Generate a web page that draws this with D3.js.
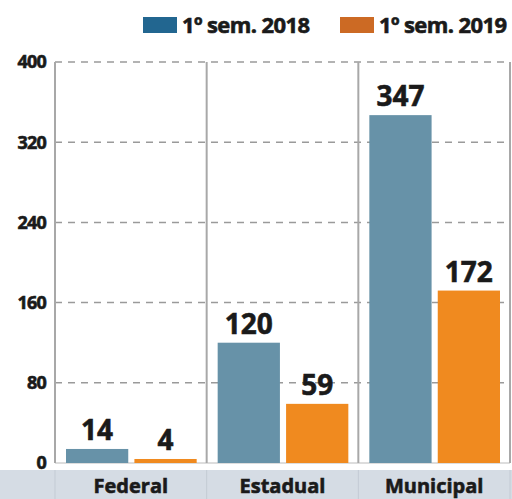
<!DOCTYPE html>
<html>
<head>
<meta charset="utf-8">
<script src="https://cdn.jsdelivr.net/npm/d3@7"></script>
<style>
  body { margin: 0; background: #fff; }
  text { font-family: "Open Sans", sans-serif; font-weight: 700; fill: #1a1a1a; stroke: #1a1a1a; stroke-width: 0.6; }
</style>
</head>
<body>
<div id="chart"></div>
<script>
const width = 512;
const height = 499;

const categories = ["Federal", "Estadual", "Municipal"];
const series = ["1º sem. 2018", "1º sem. 2019"];
const values2018 = [14, 120, 347];
const values2019 = [4, 59, 172];
const yTicks = [0, 80, 160, 240, 320, 400];
const colors = ["#6792a8", "#f08a1f"];

const plotLeft = 55, plotRight = 510, plotTop = 62, plotBottom = 463;

const svg = d3.select("#chart")
  .append("svg")
  .attr("width", width)
  .attr("height", height);

const x0 = d3.scaleBand().domain(categories).range([plotLeft, plotRight]);
const x1 = d3.scaleBand().domain(series).range([11, x0.bandwidth() - 10]).paddingInner(0.09);
const y = d3.scaleLinear().domain([0, 400]).range([plotBottom, plotTop]);

// bottom band
svg.append("rect")
  .attr("x", 0).attr("y", 470)
  .attr("width", width).attr("height", height - 470)
  .attr("fill", "#d5dce4");

// gridlines
svg.append("g")
  .selectAll("line")
  .data(yTicks.filter(d => d > 0))
  .join("line")
  .attr("x1", plotLeft).attr("x2", plotRight)
  .attr("y1", d => y(d)).attr("y2", d => y(d))
  .attr("stroke", "#9a9a9a")
  .attr("stroke-width", 1.5)
  .attr("stroke-dasharray", "7,6");

svg.append("line")
  .attr("x1", plotLeft).attr("x2", plotRight)
  .attr("y1", y(0)).attr("y2", y(0))
  .attr("stroke", "#bbb")
  .attr("stroke-width", 1);

// panel separators
const seps = categories.map(c => x0(c)).concat([plotRight]);
svg.append("g")
  .selectAll("line")
  .data(seps)
  .join("line")
  .attr("x1", d => d).attr("x2", d => d)
  .attr("y1", y(400)).attr("y2", y(0))
  .attr("stroke", "#a8a8a8")
  .attr("stroke-width", 2);

svg.append("g")
  .selectAll("line")
  .data(seps)
  .join("line")
  .attr("x1", d => d).attr("x2", d => d)
  .attr("y1", 470).attr("y2", height)
  .attr("stroke", "#c3cbd4")
  .attr("stroke-width", 1);

// y tick labels
svg.append("g")
  .selectAll("text")
  .data(yTicks)
  .join("text")
  .attr("x", 46)
  .attr("y", d => y(d))
  .attr("dy", "0.35em")
  .attr("text-anchor", "end")
  .attr("font-size", 18)
  .attr("letter-spacing", -0.8)
  .text(d => d);

// bars
const rows = categories.map((c, i) => ({ cat: c, vals: [values2018[i], values2019[i]] }));
const groups = svg.append("g")
  .selectAll("g")
  .data(rows)
  .join("g")
  .attr("transform", d => `translate(${x0(d.cat)},0)`);

groups.selectAll("rect")
  .data(d => d.vals.map((v, j) => ({ s: series[j], v, j })))
  .join("rect")
  .attr("x", d => x1(d.s))
  .attr("y", d => y(d.v))
  .attr("width", x1.bandwidth())
  .attr("height", d => y(0) - y(d.v))
  .attr("fill", d => colors[d.j]);

groups.selectAll("text")
  .data(d => d.vals.map((v, j) => ({ s: series[j], v, j })))
  .join("text")
  .attr("x", d => x1(d.s) + x1.bandwidth() / 2)
  .attr("y", d => y(d.v) - 9)
  .attr("text-anchor", "middle")
  .attr("font-size", 28)
  .text(d => d.v);

// category labels
svg.append("g")
  .selectAll("text")
  .data(categories)
  .join("text")
  .attr("x", d => x0(d) + x0.bandwidth() / 2)
  .attr("y", 493)
  .attr("text-anchor", "middle")
  .attr("font-size", 20)
  .text(d => d);

// legend
const legendX = [143, 340];
const legend = svg.append("g")
  .selectAll("g")
  .data(series)
  .join("g")
  .attr("transform", (d, i) => `translate(${legendX[i]},17)`);

legend.append("rect")
  .attr("width", 34).attr("height", 16)
  .attr("fill", (d, i) => i === 0 ? "#226690" : "#cc6a24");

legend.append("text")
  .attr("x", 39)
  .attr("y", 8)
  .attr("dy", "0.35em")
  .attr("font-size", 22)
  .attr("letter-spacing", -0.6)
  .text(d => d);
</script>
</body>
</html>
